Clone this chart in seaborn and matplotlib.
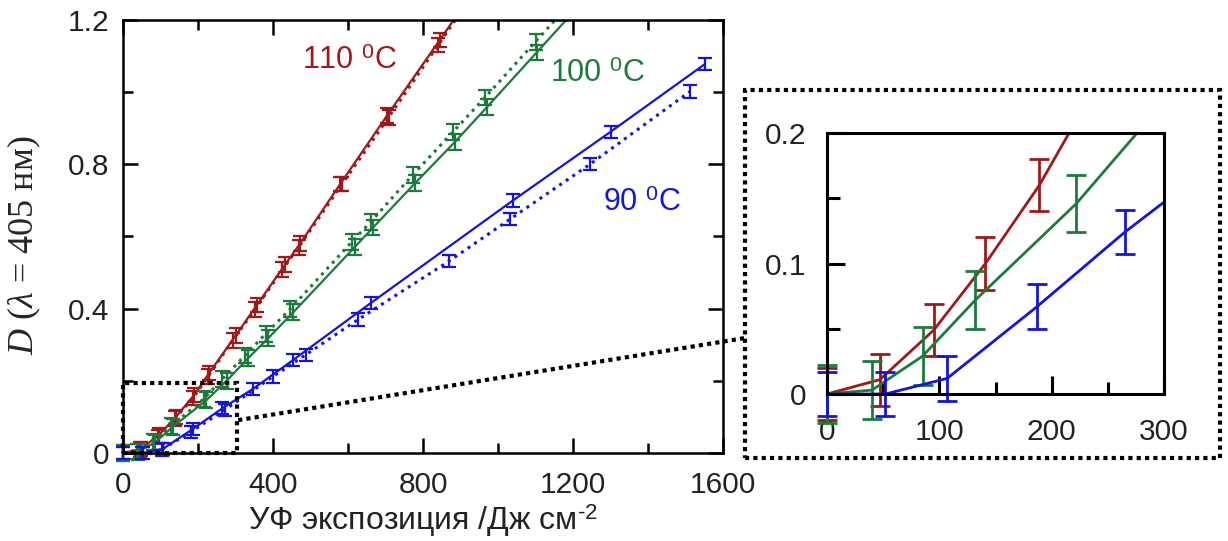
import numpy as np
import pandas as pd
import matplotlib
matplotlib.use("Agg")
import matplotlib.pyplot as plt
import seaborn as sns
from matplotlib.patches import Rectangle
from matplotlib.lines import Line2D
from matplotlib.ticker import MultipleLocator, FixedLocator

# ---- measured optical density vs UV exposure ----
# set "a": solid curves, set "b": dotted curves
exposure_110_a = [0, 47, 95, 141, 189, 230, 300, 357, 432, 472, 579, 704, 845]
density_110_a = [0, 0.011, 0.049, 0.100, 0.160, 0.222, 0.325, 0.410, 0.522, 0.580, 0.745, 0.935, 1.145]
exposure_110_b = [0, 45, 92, 138, 186, 227, 292, 352, 425, 468, 584, 708, 840]
density_110_b = [0, 0.010, 0.045, 0.095, 0.152, 0.212, 0.312, 0.398, 0.508, 0.570, 0.745, 0.930, 1.130]

exposure_100_a = [0, 40, 85, 132, 222, 276, 333, 387, 454, 619, 667, 779, 885, 970, 1103]
density_100_a = [0, 0.003, 0.029, 0.072, 0.146, 0.200, 0.262, 0.318, 0.390, 0.572, 0.625, 0.748, 0.862, 0.958, 1.110]
exposure_100_b = [0, 38, 80, 128, 215, 265, 325, 380, 445, 610, 660, 772, 880, 965, 1100]
density_100_b = [0, 0.004, 0.030, 0.074, 0.150, 0.205, 0.270, 0.330, 0.398, 0.585, 0.640, 0.770, 0.890, 0.985, 1.140]

exposure_90_a = [0, 52, 107, 187, 265, 347, 454, 660, 1040, 1300, 1552]
density_90_a = [0, 0, 0.012, 0.067, 0.124, 0.178, 0.258, 0.415, 0.700, 0.890, 1.078]
exposure_90_b = [0, 50, 104, 180, 272, 400, 487, 627, 870, 1032, 1245, 1512]
density_90_b = [0, 0, 0.010, 0.058, 0.120, 0.212, 0.272, 0.370, 0.532, 0.648, 0.800, 1.002]

error_110 = 0.020
error_100 = 0.022
error_90 = 0.017

temperatures = ["110", "100", "90"]
temp_labels = ["110 $^{0}$C", "100 $^{0}$C", "90 $^{0}$C"]
colors = {"110": "#a01818", "100": "#1c7a3c", "90": "#1414dc"}

x_ticks_main = [0, 400, 800, 1200, 1600]
x_tick_labels_main = ["0", "400", "800", "1200", "1600"]
y_ticks_main = [0, 0.4, 0.8, 1.2]
y_tick_labels_main = ["0", "0.4", "0.8", "1.2"]
x_ticks_inset = [0, 100, 200, 300]
x_tick_labels_inset = ["0", "100", "200", "300"]
y_ticks_inset = [0, 0.1, 0.2]
y_tick_labels_inset = ["0", "0.1", "0.2"]

series = {
    "110": [(exposure_110_a, density_110_a, "-"), (exposure_110_b, density_110_b, "b")],
    "100": [(exposure_100_a, density_100_a, "-"), (exposure_100_b, density_100_b, "b")],
    "90": [(exposure_90_a, density_90_a, "-"), (exposure_90_b, density_90_b, "b")],
}
errors = {"110": error_110, "100": error_100, "90": error_90}

sns.set_theme(style="ticks")
plt.rcParams["font.family"] = ["Liberation Sans", "DejaVu Sans"]
plt.rcParams["mathtext.fontset"] = "custom"
plt.rcParams["mathtext.rm"] = "Liberation Sans"
plt.rcParams["mathtext.it"] = "Liberation Serif:italic"

X_MAX, Y_MAX = 1600, 1.2
TICK_SIZE = 21.5

fig = plt.figure(figsize=(12.28, 5.41), dpi=100)
ax = fig.add_axes([0.1002, 0.1627, 0.4886, 0.8004])
axin = fig.add_axes([0.6735, 0.2717, 0.2744, 0.4824])

dotted = (0, (1, 1.6))


def extended(xs, ys):
    """Continue a curve along its last segment up to the top of the axes."""
    xs = list(map(float, xs))
    ys = list(map(float, ys))
    slope = (ys[-1] - ys[-2]) / (xs[-1] - xs[-2])
    x_top = xs[-1] + (Y_MAX - ys[-1]) / slope
    if x_top <= X_MAX:
        xs.append(x_top)
        ys.append(Y_MAX)
    return xs, ys


for t in temperatures:
    c = colors[t]
    for xs, ys, kind in series[t]:
        lx, ly = extended(xs, ys)
        df = pd.DataFrame({"x": lx, "y": ly})
        ls = "-" if kind == "-" else dotted
        lw = 1.6 if kind == "-" else 2.2
        sns.lineplot(data=df, x="x", y="y", ax=ax, color=c, lw=lw, linestyle=ls,
                     sort=False, estimator=None)
        ax.errorbar(xs, ys, yerr=errors[t], fmt="none", ecolor=c, elinewidth=1.6,
                    capsize=4.8, capthick=1.6, clip_on=False)

    # magnified view of the onset region (solid set only)
    xs, ys, _ = series[t][0]
    lx, ly = extended(xs, ys)
    sns.lineplot(data=pd.DataFrame({"x": lx, "y": ly}), x="x", y="y", ax=axin,
                 color=c, lw=2.0, sort=False, estimator=None)
    xi = [x for x, y in zip(xs, ys) if x <= 300 and y < 0.19]
    yi = [y for x, y in zip(xs, ys) if x <= 300 and y < 0.19]
    axin.errorbar(xi, yi, yerr=errors[t], fmt="none", ecolor=c, elinewidth=2.0,
                  capsize=7.5, capthick=2.0, clip_on=False)

# temperature annotations
label_pos = {"110": (605, 1.087), "100": (1264, 1.05), "90": (1384, 0.693)}
for t, lab in zip(temperatures, temp_labels):
    ax.text(*label_pos[t], lab, color=colors[t], fontsize=22, ha="center", va="center")

# main axes styling
ax.set_xlim(0, X_MAX)
ax.set_ylim(0, Y_MAX)
ax.set_xticks(x_ticks_main, x_tick_labels_main)
ax.set_yticks(y_ticks_main, y_tick_labels_main)
ax.xaxis.set_minor_locator(MultipleLocator(200))
ax.yaxis.set_minor_locator(MultipleLocator(0.2))
ax.tick_params(which="both", direction="in", top=True, right=True, width=1.8,
               color="black", labelsize=TICK_SIZE, labelcolor="#222222")
ax.tick_params(which="major", length=11)
ax.tick_params(which="minor", length=7)
ax.tick_params(axis="x", pad=13)
ax.tick_params(axis="y", pad=10)
for s in ax.spines.values():
    s.set_linewidth(1.8)
    s.set_color("black")
ax.set_xlabel("УФ экспозиция /Дж см$^{\\text{-}2}$", fontsize=23, color="#222222",
              labelpad=2)
ax.set_ylabel("$\\mathit{D}$ ($\\mathit{λ}$ = 405 нм)", fontsize=26,
              family=["Liberation Serif"])
ax.yaxis.set_label_coords(-0.133, 0.48)

# inset styling
axin.set_xlim(0, 300)
axin.set_ylim(0, 0.2)
axin.set_xticks(x_ticks_inset, x_tick_labels_inset)
axin.set_yticks(y_ticks_inset, y_tick_labels_inset)
axin.xaxis.set_minor_locator(FixedLocator([50, 150, 250]))
axin.yaxis.set_minor_locator(FixedLocator([0.05, 0.15]))
axin.tick_params(which="both", direction="in", width=2.2, color="black",
                 labelsize=TICK_SIZE, labelcolor="#222222")
axin.tick_params(which="major", length=13)
axin.tick_params(which="minor", length=9)
axin.tick_params(axis="x", pad=17)
axin.tick_params(axis="y", pad=15)
axin.set_xlabel("")
axin.set_ylabel("")
for s in axin.spines.values():
    s.set_linewidth(2.2)
    s.set_color("black")

# zoom markers: box on the main axes, frame around the inset and a link between them
frame_style = dict(fill=False, lw=3.0, ls=(0, (1, 1)), edgecolor="black")
ax.add_patch(Rectangle((0, 0), 305, 0.195, clip_on=False, zorder=5, **frame_style))
fig.add_artist(Rectangle((0.6067, 0.1534), 0.3868, 0.6802, transform=fig.transFigure,
                         **frame_style))
start = fig.transFigure.inverted().transform(ax.transData.transform((307, 0.091)))
fig.add_artist(Line2D([start[0], 0.6067], [start[1], 0.3752], transform=fig.transFigure,
                      lw=3.0, ls=(0, (1, 1)), color="black", solid_capstyle="butt",
                      dash_capstyle="butt"))

fig.savefig("out.png", dpi=100)
